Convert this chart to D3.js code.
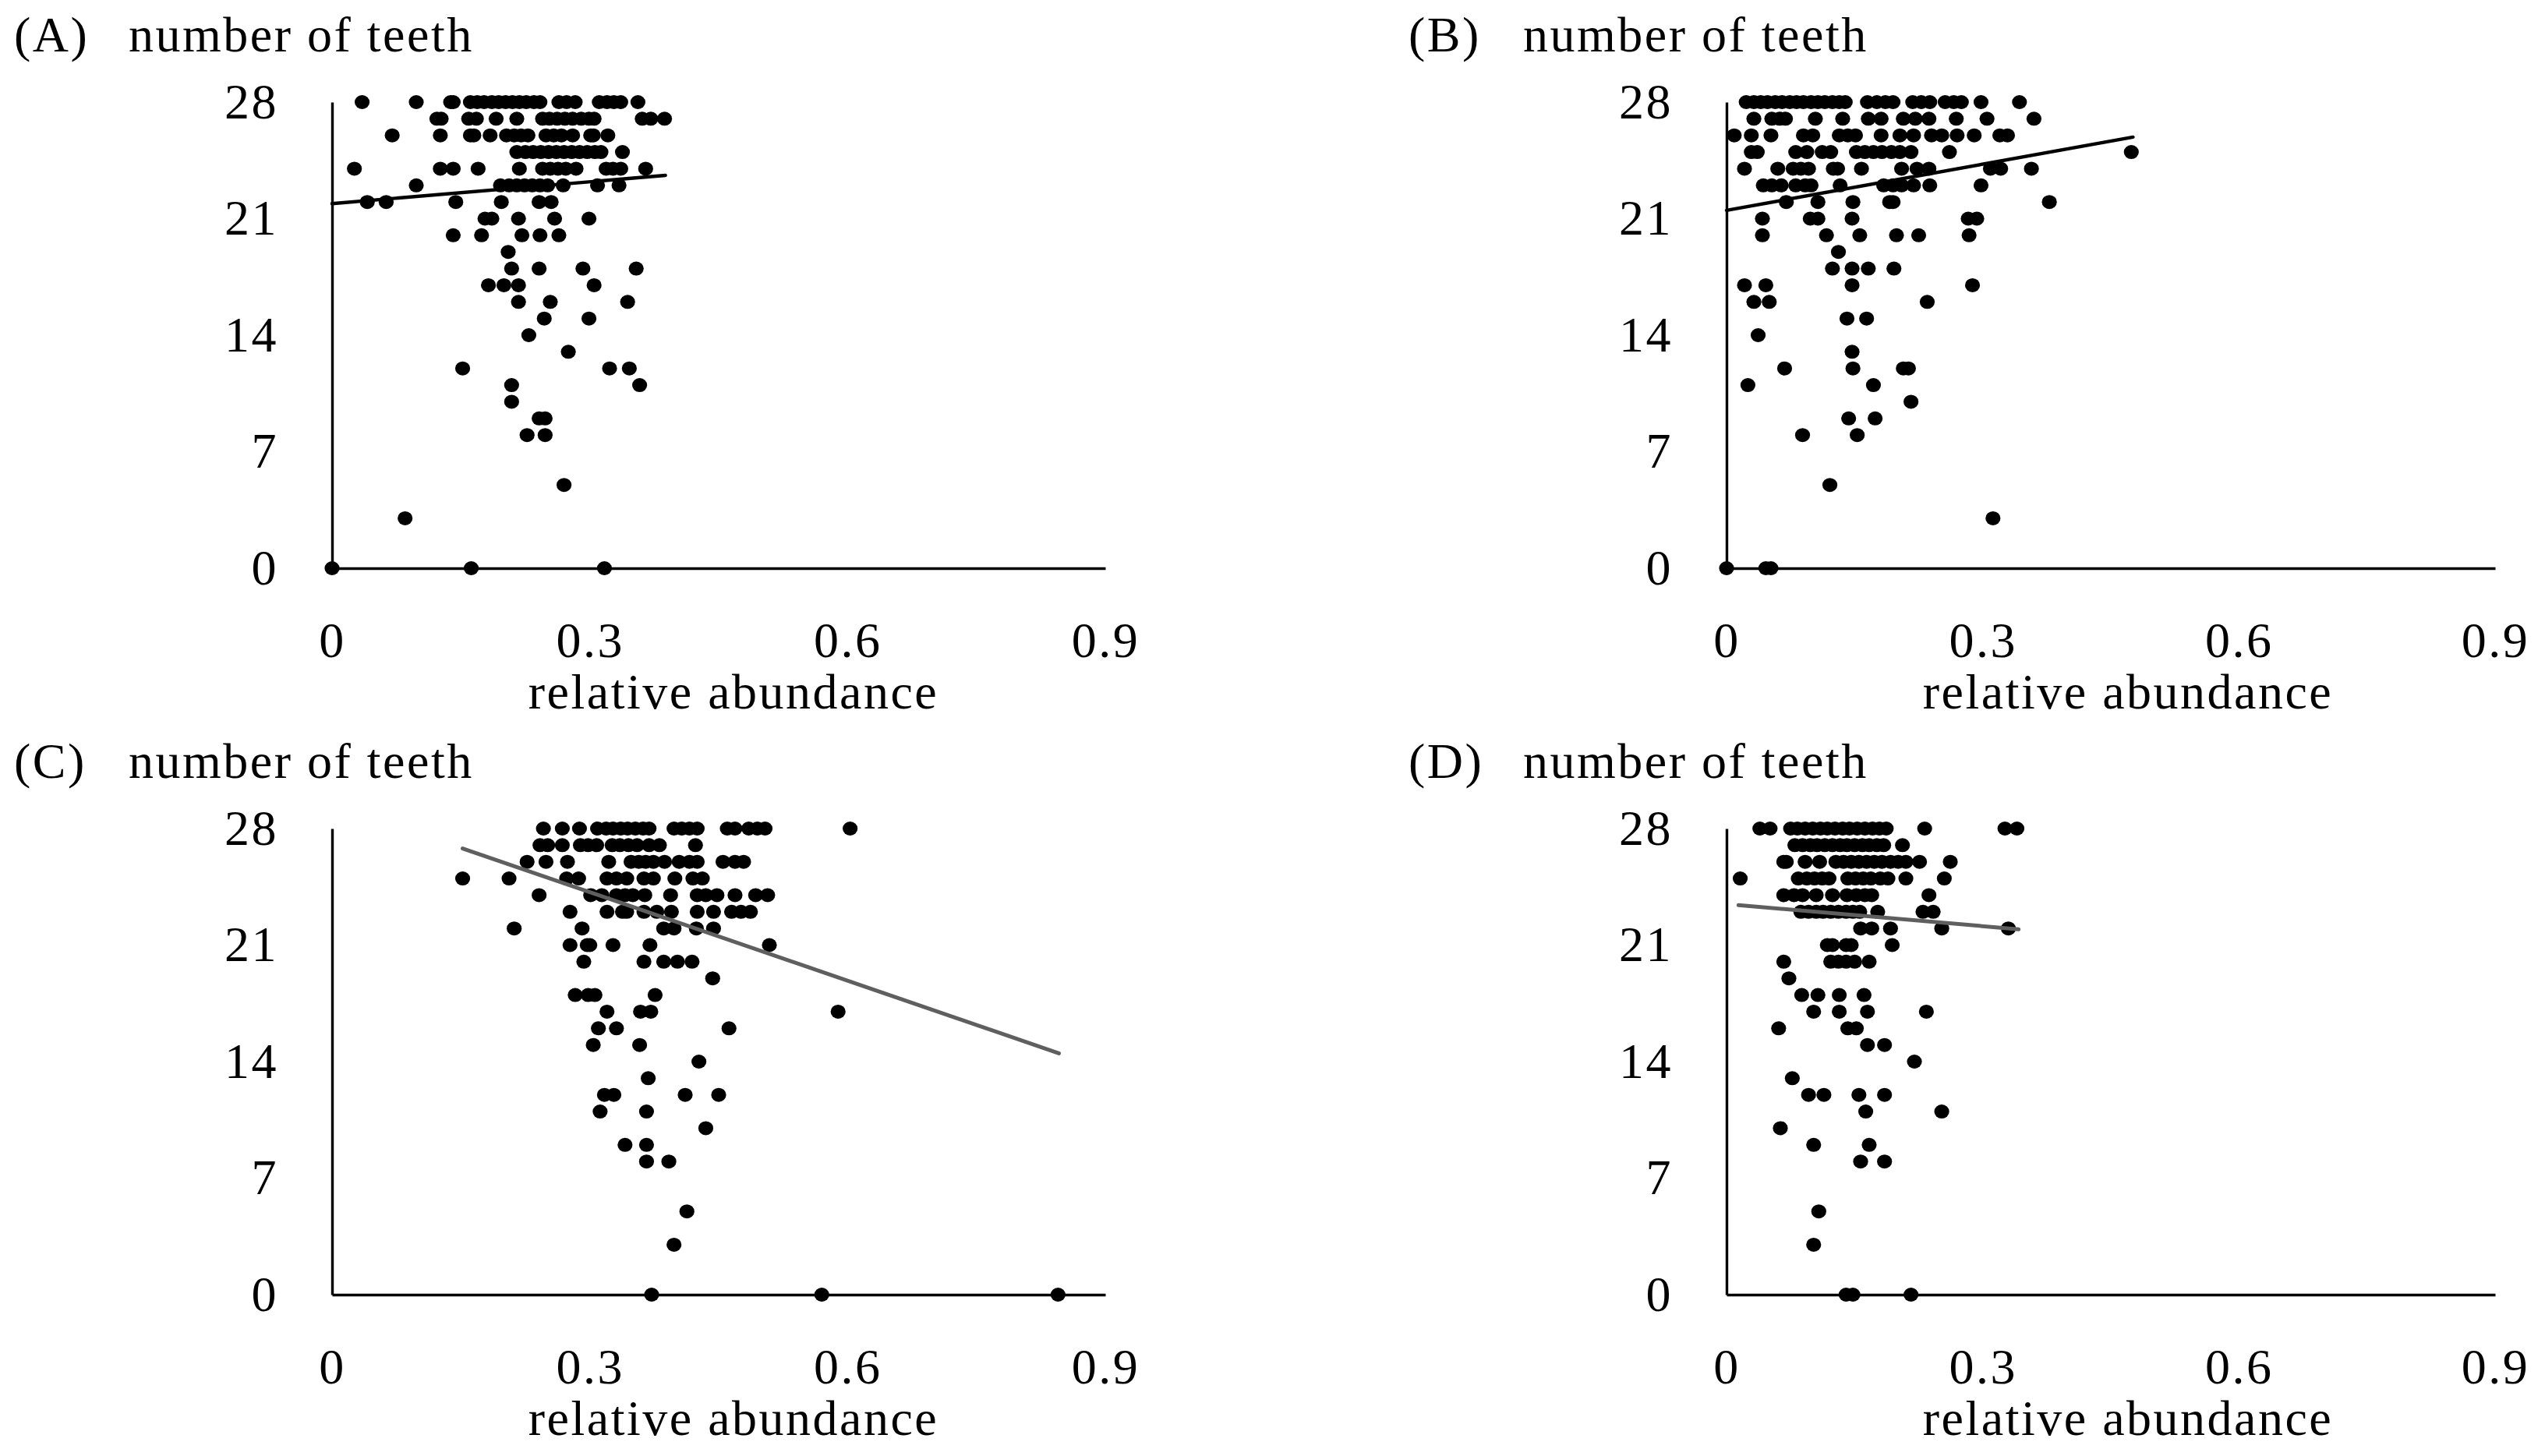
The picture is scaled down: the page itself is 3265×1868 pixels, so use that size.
<!DOCTYPE html>
<html>
<head>
<meta charset="utf-8">
<script src="https://cdn.jsdelivr.net/npm/d3@7"></script>
<style>
  body { margin: 0; background: #fff; }
  svg text { font-family: "Liberation Serif", "Times New Roman", serif; font-size: 64px; letter-spacing: 2.5px; fill: #000; }
</style>
</head>
<body>
<div id="chart"></div>
<script>
// tick labels
const xTicks = [0, 0.3, 0.6, 0.9];
const yTicks = [0, 7, 14, 21, 28];

// rows: [number of teeth, relative abundance values]
const rowsA = [
  [28, [0.035, 0.098, 0.138, 0.141, 0.161, 0.169, 0.177, 0.186, 0.194, 0.202, 0.210, 0.218, 0.226, 0.235, 0.242, 0.264, 0.273, 0.283, 0.311, 0.320, 0.328, 0.336, 0.356]],
  [27, [0.122, 0.127, 0.159, 0.168, 0.191, 0.215, 0.245, 0.253, 0.262, 0.271, 0.280, 0.290, 0.299, 0.305, 0.361, 0.371, 0.387]],
  [26, [0.070, 0.126, 0.161, 0.165, 0.184, 0.203, 0.212, 0.220, 0.228, 0.249, 0.258, 0.267, 0.280, 0.301, 0.304, 0.321]],
  [25, [0.215, 0.225, 0.234, 0.243, 0.252, 0.261, 0.270, 0.279, 0.288, 0.297, 0.306, 0.313, 0.338]],
  [24, [0.026, 0.126, 0.141, 0.170, 0.218, 0.245, 0.254, 0.263, 0.272, 0.284, 0.319, 0.327, 0.336, 0.365]],
  [23, [0.098, 0.196, 0.206, 0.215, 0.224, 0.233, 0.242, 0.251, 0.269, 0.309, 0.334]],
  [22, [0.041, 0.063, 0.144, 0.197, 0.241, 0.255]],
  [21, [0.178, 0.186, 0.217, 0.259, 0.299]],
  [20, [0.141, 0.174, 0.221, 0.242, 0.264]],
  [19, [0.205]],
  [18, [0.209, 0.241, 0.292, 0.354]],
  [17, [0.182, 0.200, 0.217, 0.305]],
  [16, [0.217, 0.254, 0.344]],
  [15, [0.247, 0.299]],
  [14, [0.229]],
  [13, [0.275]],
  [12, [0.152, 0.323, 0.346]],
  [11, [0.209, 0.358]],
  [10, [0.209]],
  [9, [0.241, 0.248]],
  [8, [0.227, 0.248]],
  [5, [0.270]],
  [3, [0.085]],
  [0, [0, 0.162, 0.317]]
];

const rowsB = [
  [28, [0.023, 0.032, 0.040, 0.048, 0.057, 0.065, 0.074, 0.082, 0.090, 0.099, 0.107, 0.115, 0.124, 0.132, 0.139, 0.165, 0.176, 0.186, 0.195, 0.218, 0.228, 0.238, 0.256, 0.266, 0.275, 0.298, 0.343]],
  [27, [0.032, 0.053, 0.062, 0.069, 0.104, 0.136, 0.166, 0.181, 0.207, 0.221, 0.237, 0.269, 0.305, 0.360]],
  [26, [0.009, 0.029, 0.052, 0.090, 0.101, 0.132, 0.142, 0.151, 0.181, 0.203, 0.219, 0.240, 0.252, 0.270, 0.290, 0.320, 0.329]],
  [25, [0.029, 0.036, 0.081, 0.094, 0.112, 0.122, 0.152, 0.162, 0.172, 0.182, 0.193, 0.203, 0.216, 0.261, 0.474]],
  [24, [0.021, 0.060, 0.078, 0.087, 0.096, 0.125, 0.130, 0.158, 0.205, 0.223, 0.237, 0.309, 0.321, 0.357]],
  [23, [0.043, 0.053, 0.064, 0.081, 0.092, 0.099, 0.133, 0.184, 0.195, 0.205, 0.219, 0.238, 0.298]],
  [22, [0.070, 0.107, 0.148, 0.191, 0.195, 0.378]],
  [21, [0.042, 0.098, 0.107, 0.147, 0.283, 0.293]],
  [20, [0.042, 0.117, 0.156, 0.199, 0.225, 0.284]],
  [19, [0.131]],
  [18, [0.124, 0.147, 0.166, 0.196]],
  [17, [0.021, 0.046, 0.147, 0.288]],
  [16, [0.032, 0.050, 0.235]],
  [15, [0.141, 0.164]],
  [14, [0.037]],
  [13, [0.147]],
  [12, [0.068, 0.148, 0.207, 0.213]],
  [11, [0.025, 0.172]],
  [10, [0.216]],
  [9, [0.143, 0.174]],
  [8, [0.089, 0.153]],
  [5, [0.121]],
  [3, [0.312]],
  [0, [0, 0.046, 0.052]]
];

const rowsC = [
  [28, [0.246, 0.268, 0.288, 0.309, 0.319, 0.327, 0.336, 0.344, 0.353, 0.362, 0.369, 0.398, 0.407, 0.416, 0.425, 0.460, 0.469, 0.485, 0.495, 0.504, 0.603]],
  [27, [0.242, 0.251, 0.268, 0.289, 0.298, 0.308, 0.326, 0.335, 0.345, 0.355, 0.369, 0.381, 0.423]],
  [26, [0.227, 0.249, 0.274, 0.322, 0.348, 0.357, 0.365, 0.374, 0.387, 0.404, 0.416, 0.425, 0.455, 0.469, 0.479]],
  [25, [0.152, 0.206, 0.273, 0.287, 0.320, 0.331, 0.343, 0.363, 0.374, 0.399, 0.420, 0.431]],
  [24, [0.241, 0.301, 0.314, 0.331, 0.341, 0.350, 0.364, 0.394, 0.425, 0.435, 0.448, 0.469, 0.493, 0.507]],
  [23, [0.277, 0.320, 0.338, 0.343, 0.363, 0.378, 0.395, 0.425, 0.444, 0.465, 0.476, 0.487]],
  [22, [0.212, 0.291, 0.386, 0.398, 0.424, 0.444]],
  [21, [0.277, 0.297, 0.300, 0.327, 0.370, 0.509]],
  [20, [0.293, 0.363, 0.386, 0.402, 0.419]],
  [19, [0.443]],
  [18, [0.283, 0.298, 0.306, 0.376]],
  [17, [0.320, 0.359, 0.371, 0.589]],
  [16, [0.310, 0.331, 0.462]],
  [15, [0.304, 0.358]],
  [14, [0.427]],
  [13, [0.368]],
  [12, [0.317, 0.328, 0.411, 0.450]],
  [11, [0.312, 0.366]],
  [10, [0.435]],
  [9, [0.341, 0.366]],
  [8, [0.366, 0.392]],
  [5, [0.413]],
  [3, [0.398]],
  [0, [0.372, 0.570, 0.845]]
];

const rowsD = [
  [28, [0.039, 0.051, 0.075, 0.083, 0.092, 0.101, 0.110, 0.118, 0.127, 0.136, 0.144, 0.153, 0.162, 0.171, 0.179, 0.187, 0.232, 0.326, 0.340]],
  [27, [0.080, 0.089, 0.098, 0.106, 0.115, 0.124, 0.133, 0.141, 0.150, 0.159, 0.167, 0.176, 0.184, 0.206]],
  [26, [0.067, 0.070, 0.092, 0.109, 0.128, 0.137, 0.146, 0.155, 0.164, 0.173, 0.182, 0.192, 0.201, 0.210, 0.226, 0.262]],
  [25, [0.016, 0.084, 0.094, 0.103, 0.112, 0.120, 0.142, 0.151, 0.160, 0.169, 0.180, 0.189, 0.210, 0.255]],
  [24, [0.067, 0.079, 0.089, 0.105, 0.124, 0.141, 0.152, 0.162, 0.170, 0.237]],
  [23, [0.087, 0.096, 0.105, 0.113, 0.122, 0.131, 0.140, 0.148, 0.156, 0.177, 0.230, 0.242]],
  [22, [0.157, 0.170, 0.192, 0.252, 0.330]],
  [21, [0.118, 0.124, 0.140, 0.146, 0.194]],
  [20, [0.067, 0.122, 0.131, 0.140, 0.150, 0.167]],
  [19, [0.073]],
  [18, [0.088, 0.107, 0.132, 0.161]],
  [17, [0.102, 0.132, 0.165, 0.234]],
  [16, [0.061, 0.142, 0.152]],
  [15, [0.165, 0.185]],
  [14, [0.220]],
  [13, [0.077]],
  [12, [0.096, 0.114, 0.155, 0.185]],
  [11, [0.163, 0.252]],
  [10, [0.063]],
  [9, [0.102, 0.167]],
  [8, [0.157, 0.185]],
  [5, [0.108]],
  [3, [0.102]],
  [0, [0.140, 0.148, 0.216]]
];

// linear trend lines, [abundance, teeth] at both ends
const trendA = [[0, 21.9], [0.388, 23.6]];
const trendB = [[0, 21.5], [0.476, 25.9]];
const trendC = [[0.152, 26.8], [0.846, 14.5]];
const trendD = [[0.014, 23.4], [0.342, 21.95]];

const width = 3265;
const height = 1868;

const svg = d3.select('#chart')
  .append('svg')
  .attr('width', width)
  .attr('height', height)
  .attr('viewBox', `0 0 ${width} ${height}`);

const panels = [
  { label: '(A)', rows: rowsA, trend: trendA, trendColor: '#000', left: 426, right: 1418, top: 131, bottom: 729 },
  { label: '(B)', rows: rowsB, trend: trendB, trendColor: '#000', left: 2215, right: 3201, top: 131, bottom: 729 },
  { label: '(C)', rows: rowsC, trend: trendC, trendColor: '#5f5f5f', left: 426, right: 1418, top: 1063, bottom: 1661 },
  { label: '(D)', rows: rowsD, trend: trendD, trendColor: '#5f5f5f', left: 2215, right: 3201, top: 1063, bottom: 1661 }
];

panels.forEach(drawPanel);

function drawPanel(p) {
  const g = svg.append('g');

  const x = d3.scaleLinear().domain([0, 0.9]).range([p.left, p.right]);
  const y = d3.scaleLinear().domain([0, 28]).range([p.bottom, p.top]);

  // axes, no tick marks
  const xAxis = g.append('g')
    .attr('transform', `translate(0, ${p.bottom})`)
    .call(d3.axisBottom(x).tickValues(xTicks).tickFormat(d3.format('')).tickSize(0).tickPadding(69));
  const yAxis = g.append('g')
    .attr('transform', `translate(${p.left}, 0)`)
    .call(d3.axisLeft(y).tickValues(yTicks).tickSize(0).tickPadding(69));

  [xAxis, yAxis].forEach(a => {
    a.attr('font-family', null).attr('font-size', null);
    a.select('.domain').attr('stroke', '#000').attr('stroke-width', 3.4);
    a.selectAll('text').attr('fill', '#000');
  });

  // panel letter and y title
  g.append('text').attr('x', p.left - 408).attr('y', p.top - 65).text(p.label);
  g.append('text').attr('x', p.left - 261).attr('y', p.top - 65).text('number of teeth');

  // x title
  g.append('text')
    .attr('x', p.left + 515)
    .attr('y', p.bottom + 180)
    .attr('text-anchor', 'middle')
    .text('relative abundance');

  const points = p.rows.flatMap(([teeth, values]) => values.map(v => ({ abundance: v, teeth })));

  g.append('g')
    .selectAll('ellipse')
    .data(points)
    .join('ellipse')
    .attr('cx', d => x(d.abundance))
    .attr('cy', d => y(d.teeth))
    .attr('rx', 9.6)
    .attr('ry', 9)
    .attr('fill', '#000');

  g.append('path')
    .datum(p.trend)
    .attr('d', d3.line().x(d => x(d[0])).y(d => y(d[1])))
    .attr('fill', 'none')
    .attr('stroke', p.trendColor)
    .attr('stroke-width', p.trendColor === '#000' ? 4.4 : 5)
    .attr('stroke-linecap', 'round');
}
</script>
</body>
</html>
